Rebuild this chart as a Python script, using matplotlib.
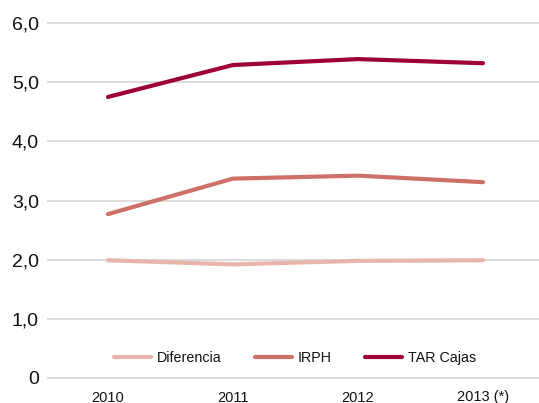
import matplotlib
matplotlib.use("Agg")
import matplotlib.pyplot as plt

plt.rcParams['font.family'] = ['Liberation Sans', 'DejaVu Sans']

years = ['2010', '2011', '2012', '2013 (*)']
diferencia = [1.99, 1.92, 1.98, 1.99]
irph = [2.77, 3.37, 3.42, 3.31]
tar_cajas = [4.75, 5.29, 5.39, 5.32]
y_ticks = [0, 1, 2, 3, 4, 5, 6]
y_labels = ['0', '1,0', '2,0', '3,0', '4,0', '5,0', '6,0']

series = [
    ('Diferencia', diferencia, '#E9B5AB'),
    ('IRPH', irph, '#CD7168'),
    ('TAR Cajas', tar_cajas, '#9E0034'),
]

fig = plt.figure(figsize=(5.39, 4.03), dpi=100)
ax = fig.add_axes([48 / 539, 1 - 378 / 403, 1 - 48 / 539, (378 - 23) / 403])

x = list(range(len(years)))
for name, vals, col in series:
    ax.plot(x, vals, color=col, lw=3, label=name, solid_capstyle='round', zorder=3)

ax.set_xlim(-0.48, 3.448)
ax.set_ylim(0, 6)
ax.set_yticks(y_ticks)
ax.set_yticklabels(y_labels, fontsize=14, color='#111111')
ax.set_xticks(x)
ax.set_xticklabels(years, fontsize=10.5, color='#111111')
ax.tick_params(axis='y', length=0, pad=6.5)
ax.tick_params(axis='x', length=0, pad=9)
for s in ax.spines.values():
    s.set_visible(False)
ax.yaxis.grid(True, color='#d9d9d9', lw=1.3)
for gl in ax.get_ygridlines():
    gl.set_clip_on(False)

ax.legend(loc='center', bbox_to_anchor=(0.503, 0.057), ncol=3, frameon=False,
          fontsize=10.3, handlelength=2.6, handletextpad=0.42, columnspacing=2.3,
          labelcolor='#111111')

fig.savefig('out.png', dpi=100)
